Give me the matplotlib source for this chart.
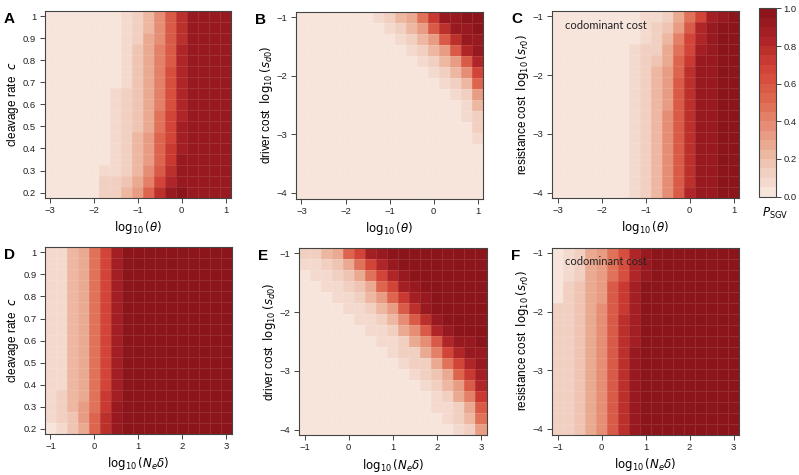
import numpy as np
import matplotlib
matplotlib.use("Agg")
import matplotlib.pyplot as plt
from matplotlib.colors import LinearSegmentedColormap, ListedColormap, BoundaryNorm

plt.rcParams['font.family'] = ['Liberation Sans', 'DejaVu Sans']
plt.rcParams['mathtext.fontset'] = 'dejavusans'

# ===============================
# GRID AXES
# ===============================
theta = [-3.0, -2.75, -2.5, -2.25, -2.0, -1.75, -1.5, -1.25, -1.0,
         -0.75, -0.5, -0.25, 0.0, 0.25, 0.5, 0.75, 1.0]
ne_delta = [-1.0, -0.75, -0.5, -0.25, 0.0, 0.25, 0.5, 0.75, 1.0,
            1.25, 1.5, 1.75, 2.0, 2.25, 2.5, 2.75, 3.0]
# rows listed from top of panel to bottom
cleavage = [1.0, 0.95, 0.9, 0.85, 0.8, 0.75, 0.7, 0.65, 0.6,
            0.55, 0.5, 0.45, 0.4, 0.35, 0.3, 0.25, 0.2]
log_cost = [-1.0, -1.1875, -1.375, -1.5625, -1.75, -1.9375, -2.125, -2.3125, -2.5,
            -2.6875, -2.875, -3.0625, -3.25, -3.4375, -3.625, -3.8125, -4.0]

# ===============================
# P_SGV (percent), rows top -> bottom
# ===============================
p_a = [
    [2, 2, 2, 2, 2, 3, 4, 9, 15, 24, 38, 57, 78, 91, 93, 93, 93],
    [2, 2, 2, 2, 2, 3, 4, 9, 15, 24, 38, 57, 78, 91, 93, 93, 93],
    [2, 2, 2, 2, 2, 3, 4, 9, 15, 25, 39, 58, 79, 92, 93, 93, 93],
    [2, 2, 2, 2, 2, 3, 4, 9, 16, 25, 40, 59, 80, 92, 93, 93, 93],
    [2, 2, 2, 2, 2, 3, 4, 9, 16, 26, 40, 60, 80, 93, 93, 93, 93],
    [2, 2, 2, 2, 2, 3, 4, 9, 16, 26, 41, 61, 81, 93, 93, 93, 93],
    [2, 2, 2, 2, 3, 3, 4, 9, 17, 27, 42, 62, 82, 93, 93, 93, 93],
    [2, 2, 2, 2, 3, 3, 8, 10, 18, 28, 44, 63, 83, 93, 93, 93, 93],
    [2, 2, 2, 2, 3, 3, 8, 10, 18, 28, 44, 64, 84, 93, 93, 93, 93],
    [2, 2, 2, 2, 3, 3, 8, 10, 19, 29, 46, 66, 85, 93, 93, 93, 93],
    [2, 2, 2, 2, 3, 3, 8, 11, 19, 30, 47, 67, 86, 93, 93, 93, 93],
    [2, 2, 2, 2, 3, 4, 8, 11, 20, 32, 50, 70, 88, 93, 93, 93, 93],
    [2, 2, 2, 2, 3, 4, 8, 11, 21, 33, 52, 72, 89, 93, 93, 93, 93],
    [2, 2, 2, 2, 3, 4, 8, 12, 21, 35, 54, 74, 90, 93, 93, 93, 93],
    [2, 2, 2, 2, 3, 5, 9, 13, 23, 38, 58, 78, 92, 93, 93, 93, 93],
    [2, 2, 2, 3, 4, 10, 11, 16, 27, 43, 66, 85, 94, 93, 93, 93, 93],
    [2, 2, 2, 3, 4, 11, 12, 20, 32, 52, 76, 90, 98, 93, 93, 93, 93],
]
p_b = [
    [3, 3, 3, 3, 3, 3, 3, 8, 12, 20, 30, 48, 74, 90, 95, 97, 97],
    [3, 3, 3, 3, 3, 3, 3, 4, 8, 12, 20, 35, 55, 76, 90, 95, 97],
    [3, 3, 3, 3, 3, 3, 3, 3, 3, 8, 12, 20, 35, 55, 75, 90, 95],
    [3, 3, 3, 3, 3, 3, 3, 3, 3, 3, 8, 12, 20, 35, 55, 80, 92],
    [3, 3, 3, 3, 3, 3, 3, 3, 3, 3, 3, 8, 12, 20, 35, 60, 83],
    [3, 3, 3, 3, 3, 3, 3, 3, 3, 3, 3, 3, 8, 12, 22, 38, 70],
    [3, 3, 3, 3, 3, 3, 3, 3, 3, 3, 3, 3, 3, 8, 12, 22, 50],
    [3, 3, 3, 3, 3, 3, 3, 3, 3, 3, 3, 3, 3, 3, 8, 13, 35],
    [3, 3, 3, 3, 3, 3, 3, 3, 3, 3, 3, 3, 3, 3, 3, 8, 22],
    [3, 3, 3, 3, 3, 3, 3, 3, 3, 3, 3, 3, 3, 3, 3, 5, 15],
    [3, 3, 3, 3, 3, 3, 3, 3, 3, 3, 3, 3, 3, 3, 3, 3, 10],
    [3, 3, 3, 3, 3, 3, 3, 3, 3, 3, 3, 3, 3, 3, 3, 3, 6],
    [3, 3, 3, 3, 3, 3, 3, 3, 3, 3, 3, 3, 3, 3, 3, 3, 3],
    [3, 3, 3, 3, 3, 3, 3, 3, 3, 3, 3, 3, 3, 3, 3, 3, 3],
    [3, 3, 3, 3, 3, 3, 3, 3, 3, 3, 3, 3, 3, 3, 3, 3, 3],
    [3, 3, 3, 3, 3, 3, 3, 3, 3, 3, 3, 3, 3, 3, 3, 3, 3],
    [3, 3, 3, 3, 3, 3, 3, 3, 3, 3, 3, 3, 3, 3, 3, 3, 3],
]
p_c = [
    [3, 3, 3, 3, 3, 3, 3, 4, 6, 9, 15, 28, 48, 70, 87, 94, 96],
    [3, 3, 3, 3, 3, 3, 3, 4, 6, 10, 19, 35, 58, 80, 92, 96, 97],
    [3, 3, 3, 3, 3, 3, 3, 4, 8, 12, 22, 40, 65, 85, 94, 96, 97],
    [3, 3, 3, 3, 3, 3, 3, 6, 10, 15, 25, 45, 70, 88, 95, 96, 97],
    [3, 3, 3, 3, 3, 3, 4, 7, 12, 18, 30, 50, 72, 90, 95, 96, 97],
    [3, 3, 3, 3, 3, 3, 4, 7, 12, 20, 33, 52, 75, 91, 95, 96, 97],
    [3, 3, 3, 3, 3, 3, 4, 8, 12, 20, 35, 55, 77, 92, 95, 96, 97],
    [3, 3, 3, 3, 3, 3, 4, 8, 12, 20, 35, 55, 77, 92, 95, 96, 97],
    [3, 3, 3, 3, 3, 3, 4, 8, 12, 20, 35, 55, 77, 92, 95, 96, 97],
    [3, 3, 3, 3, 3, 3, 4, 8, 12, 20, 36, 56, 78, 92, 95, 96, 97],
    [3, 3, 3, 3, 3, 3, 4, 8, 12, 21, 36, 56, 78, 92, 95, 96, 97],
    [3, 3, 3, 3, 3, 3, 4, 8, 12, 21, 36, 56, 78, 92, 95, 96, 97],
    [3, 3, 3, 3, 3, 3, 4, 8, 13, 21, 37, 57, 78, 93, 95, 96, 97],
    [3, 3, 3, 3, 3, 3, 4, 8, 13, 21, 37, 57, 79, 93, 95, 96, 97],
    [3, 3, 3, 3, 3, 3, 4, 8, 13, 22, 37, 57, 79, 93, 95, 96, 97],
    [3, 3, 3, 3, 3, 3, 4, 8, 13, 22, 38, 58, 79, 93, 95, 96, 97],
    [3, 3, 3, 3, 3, 3, 4, 8, 13, 22, 38, 58, 80, 93, 95, 96, 97],
]
p_d = [
    [8, 8, 20, 30, 46, 70, 88, 96, 96, 96, 96, 96, 96, 96, 96, 96, 96],
    [8, 8, 20, 30, 46, 70, 88, 96, 96, 96, 96, 96, 96, 96, 96, 96, 96],
    [8, 8, 20, 30, 46, 70, 88, 96, 96, 96, 96, 96, 96, 96, 96, 96, 96],
    [8, 8, 20, 30, 46, 70, 88, 96, 96, 96, 96, 96, 96, 96, 96, 96, 96],
    [8, 8, 20, 30, 46, 70, 88, 96, 96, 96, 96, 96, 96, 96, 96, 96, 96],
    [8, 8, 20, 30, 46, 70, 88, 96, 96, 96, 96, 96, 96, 96, 96, 96, 96],
    [8, 8, 20, 30, 46, 70, 88, 96, 96, 96, 96, 96, 96, 96, 96, 96, 96],
    [8, 8, 20, 30, 46, 70, 88, 96, 96, 96, 96, 96, 96, 96, 96, 96, 96],
    [8, 8, 20, 30, 46, 70, 88, 96, 96, 96, 96, 96, 96, 96, 96, 96, 96],
    [8, 8, 20, 30, 46, 70, 88, 96, 96, 96, 96, 96, 96, 96, 96, 96, 96],
    [8, 8, 20, 30, 46, 70, 88, 96, 96, 96, 96, 96, 96, 96, 96, 96, 96],
    [8, 8, 20, 30, 46, 70, 88, 96, 96, 96, 96, 96, 96, 96, 96, 96, 96],
    [8, 8, 20, 30, 46, 70, 88, 96, 96, 96, 96, 96, 96, 96, 96, 96, 96],
    [7, 11, 20, 30, 47, 71, 89, 96, 96, 96, 96, 96, 96, 96, 96, 96, 96],
    [6, 11, 20, 31, 48, 72, 90, 96, 96, 96, 96, 96, 96, 96, 96, 96, 96],
    [5, 11, 19, 31, 50, 75, 92, 96, 96, 96, 96, 96, 96, 96, 96, 96, 96],
    [2, 8, 16, 29, 52, 78, 94, 96, 96, 96, 96, 96, 96, 96, 96, 96, 96],
]
p_e = [
    [10, 12, 20, 30, 50, 70, 86, 95, 96, 96, 96, 96, 96, 96, 96, 96, 96],
    [5, 8, 12, 18, 30, 46, 66, 84, 94, 96, 96, 96, 96, 96, 96, 96, 96],
    [3, 5, 8, 12, 18, 30, 48, 68, 85, 94, 96, 96, 96, 96, 96, 96, 96],
    [3, 3, 5, 8, 12, 18, 30, 50, 70, 86, 94, 96, 96, 96, 96, 96, 96],
    [3, 3, 3, 5, 8, 12, 20, 32, 52, 72, 88, 95, 96, 96, 96, 96, 96],
    [3, 3, 3, 3, 5, 8, 12, 20, 32, 55, 75, 90, 96, 96, 96, 96, 96],
    [3, 3, 3, 3, 3, 5, 8, 13, 22, 38, 55, 75, 90, 96, 96, 96, 96],
    [3, 3, 3, 3, 3, 3, 5, 9, 14, 25, 38, 55, 80, 90, 96, 96, 96],
    [3, 3, 3, 3, 3, 3, 3, 5, 9, 15, 25, 38, 60, 80, 90, 95, 96],
    [3, 3, 3, 3, 3, 3, 3, 3, 5, 10, 15, 25, 40, 65, 80, 90, 95],
    [3, 3, 3, 3, 3, 3, 3, 3, 3, 6, 10, 15, 28, 45, 68, 85, 93],
    [3, 3, 3, 3, 3, 3, 3, 3, 3, 3, 6, 10, 18, 30, 50, 72, 88],
    [3, 3, 3, 3, 3, 3, 3, 3, 3, 3, 3, 6, 12, 20, 35, 55, 80],
    [3, 3, 3, 3, 3, 3, 3, 3, 3, 3, 3, 3, 8, 12, 25, 40, 72],
    [3, 3, 3, 3, 3, 3, 3, 3, 3, 3, 3, 3, 5, 8, 15, 30, 55],
    [3, 3, 3, 3, 3, 3, 3, 3, 3, 3, 3, 3, 3, 5, 10, 20, 45],
    [3, 3, 3, 3, 3, 3, 3, 3, 3, 3, 3, 3, 3, 3, 8, 15, 32],
]
p_f = [
    [4, 8, 15, 25, 32, 46, 63, 82, 95, 96, 96, 96, 96, 96, 96, 96, 96],
    [4, 8, 15, 25, 32, 46, 63, 82, 95, 96, 96, 96, 96, 96, 96, 96, 96],
    [4, 8, 15, 25, 33, 47, 64, 83, 95, 96, 96, 96, 96, 96, 96, 96, 96],
    [4, 11, 17, 26, 35, 55, 72, 88, 96, 96, 96, 96, 96, 96, 96, 96, 96],
    [4, 11, 17, 26, 35, 55, 72, 88, 96, 96, 96, 96, 96, 96, 96, 96, 96],
    [10, 12, 18, 27, 36, 56, 74, 88, 96, 96, 96, 96, 96, 96, 96, 96, 96],
    [10, 12, 18, 27, 37, 57, 75, 88, 96, 96, 96, 96, 96, 96, 96, 96, 96],
    [10, 12, 18, 27, 37, 57, 75, 88, 96, 96, 96, 96, 96, 96, 96, 96, 96],
    [10, 12, 18, 27, 37, 57, 75, 88, 96, 96, 96, 96, 96, 96, 96, 96, 96],
    [10, 12, 19, 28, 38, 58, 76, 95, 96, 96, 96, 96, 96, 96, 96, 96, 96],
    [10, 12, 19, 28, 38, 58, 76, 95, 96, 96, 96, 96, 96, 96, 96, 96, 96],
    [10, 12, 19, 28, 38, 58, 76, 95, 96, 96, 96, 96, 96, 96, 96, 96, 96],
    [10, 12, 19, 28, 38, 58, 76, 95, 96, 96, 96, 96, 96, 96, 96, 96, 96],
    [10, 12, 19, 28, 38, 58, 76, 95, 96, 96, 96, 96, 96, 96, 96, 96, 96],
    [10, 12, 19, 28, 38, 58, 76, 95, 96, 96, 96, 96, 96, 96, 96, 96, 96],
    [10, 12, 19, 28, 38, 58, 76, 95, 96, 96, 96, 96, 96, 96, 96, 96, 96],
    [10, 12, 19, 28, 38, 58, 76, 95, 96, 96, 96, 96, 96, 96, 96, 96, 96],
]

# ===============================
# COLOURS (20 discrete bins)
# ===============================
ramp = LinearSegmentedColormap.from_list("psgv", [
    (0.0, "#F8EAE2"), (0.15, "#F0CABA"), (0.3, "#E9A38A"), (0.5, "#DF6B52"),
    (0.7, "#CF3E33"), (0.85, "#AA2226"), (1.0, "#86131A")])
levels = np.linspace(0, 1, 21)
cmap = ListedColormap(ramp((levels[:-1] + levels[1:]) / 2))
norm = BoundaryNorm(levels, cmap.N)

W, H = 799, 475
fig = plt.figure(figsize=(W / 100, H / 100), dpi=100)


def box(left, top, right, bottom):
    return [left / W, 1 - bottom / H, (right - left) / W, (bottom - top) / H]


panels = [
    ("A", box(44.5, 11, 231, 198), theta, cleavage, p_a, "cleavage rate  $c$", r"$\log_{10}(\theta)$", False),
    ("B", box(296, 11.5, 483, 198.5), theta, log_cost, p_b, r"driver cost  $\log_{10}(s_{d0})$", r"$\log_{10}(\theta)$", False),
    ("C", box(552, 11, 739, 198), theta, log_cost, p_c, r"resistance cost  $\log_{10}(s_{r0})$", r"$\log_{10}(\theta)$", True),
    ("D", box(45, 247, 231.5, 434), ne_delta, cleavage, p_d, "cleavage rate  $c$", r"$\log_{10}(N_e\delta)$", False),
    ("E", box(299, 248, 486.5, 435), ne_delta, log_cost, p_e, r"driver cost  $\log_{10}(s_{d0})$", r"$\log_{10}(N_e\delta)$", False),
    ("F", box(552, 247.5, 739, 434.5), ne_delta, log_cost, p_f, r"resistance cost  $\log_{10}(s_{r0})$", r"$\log_{10}(N_e\delta)$", True),
]

for letter, pos, xs, ys, vals, ylab, xlab, codom in panels:
    ax = fig.add_axes(pos)
    z = np.array(vals) / 100.0
    mesh = ax.pcolormesh(xs, ys, z, shading="nearest", cmap=cmap, norm=norm,
                         edgecolors=(1, 1, 1, 0.1), linewidth=0.5)
    dx = abs(xs[1] - xs[0]) / 2
    dy = abs(ys[1] - ys[0]) / 2
    ax.set_xlim(min(xs) - dx, max(xs) + dx)
    ax.set_ylim(min(ys) - dy, max(ys) + dy)
    if ys is cleavage:
        ax.set_yticks([0.2, 0.3, 0.4, 0.5, 0.6, 0.7, 0.8, 0.9, 1.0])
        ax.set_yticklabels(["0.2", "0.3", "0.4", "0.5", "0.6", "0.7", "0.8", "0.9", "1"])
    else:
        ax.set_yticks([-4, -3, -2, -1])
        ax.set_yticklabels(["\u22124", "\u22123", "\u22122", "\u22121"])
    xt = [-3, -2, -1, 0, 1] if xs is theta else [-1, 0, 1, 2, 3]
    ax.set_xticks(xt)
    ax.set_xticklabels([str(v).replace("-", "\u2212") for v in xt])
    ax.tick_params(direction="out", length=3.5, width=0.7, labelsize=6.8,
                   color="#444444", labelcolor="#222222", pad=2.5)
    for sp in ax.spines.values():
        sp.set_linewidth(0.8)
        sp.set_color("#444444")
    ax.set_xlabel(xlab, fontsize=8.5, labelpad=3)
    ax.set_ylabel(ylab, fontsize=8.5, labelpad=1.5)
    if codom:
        ax.text(0.07, 0.925, "codominant cost", transform=ax.transAxes,
                fontsize=8, family="Lato", color="#222222", va="center")
    fig.text((pos[0] * W - 41) / W, pos[1] + pos[3] - 1 / H, letter,
             fontsize=11, fontweight="bold", va="top", ha="left")

# ===============================
# COLORBAR
# ===============================
cax = fig.add_axes(box(759, 8.5, 776, 196.5))
cb = fig.colorbar(mesh, cax=cax, ticks=[0, 0.2, 0.4, 0.6, 0.8, 1.0], format="%.1f")
cb.ax.minorticks_off()
cb.outline.set_linewidth(0.8)
cb.outline.set_edgecolor("#444444")
cax.tick_params(direction="out", length=3.5, width=0.7, labelsize=6.8,
                color="#444444", labelcolor="#222222", pad=2)
fig.text(762 / W, 1 - 213 / H, r"$P_{\mathrm{SGV}}$", fontsize=8.5, va="center")

fig.savefig("out.png", dpi=100)
